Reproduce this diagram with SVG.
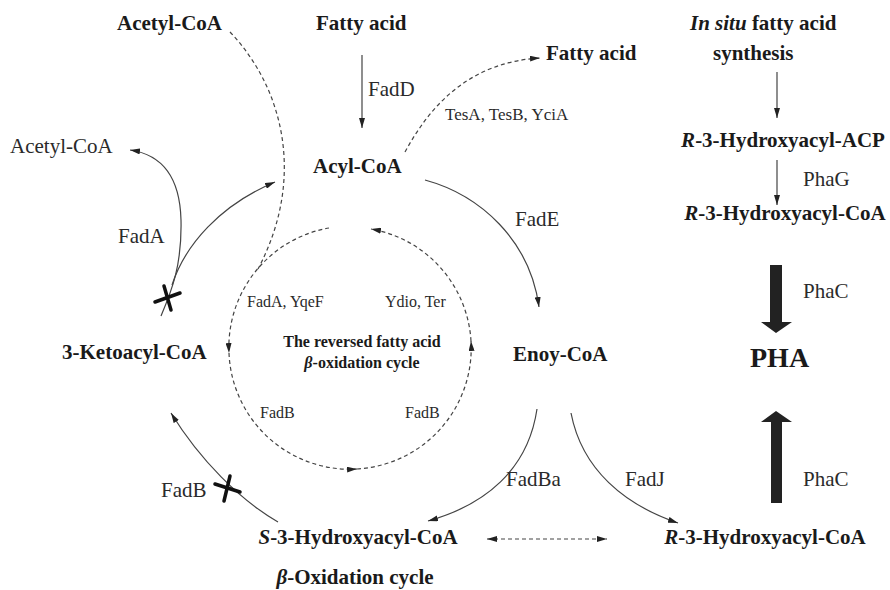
<svg xmlns="http://www.w3.org/2000/svg" width="890" height="590" viewBox="0 0 890 590">
<style>
text{font-family:"Liberation Serif","Times New Roman",serif;fill:#1a1a1a}
.b{font-weight:bold;font-size:21px}
.h{font-weight:bold;font-size:21px}
.r{font-size:21px;fill:#2a2a2a}
.s{font-size:16px;fill:#2a2a2a}
.sb{font-weight:bold;font-size:16px}
.i{font-style:italic}
.ln{fill:none;stroke:#444;stroke-width:1.2}
.ds{fill:none;stroke:#444;stroke-width:1.2;stroke-dasharray:4 3}
.x{stroke:#111;stroke-width:3.5;stroke-linecap:round}
.big{fill:#222}
</style>
<defs>
<marker id="ah" viewBox="0 0 10 6" refX="10" refY="3" markerWidth="10" markerHeight="6" markerUnits="userSpaceOnUse" orient="auto-start-reverse">
<path d="M0,0 L10,3 L0,6 Z" fill="#222"/>
</marker>
</defs>
<rect width="890" height="590" fill="#fff"/>

<g id="connectors">
<!-- Fatty acid -> Acyl-CoA -->
<path class="ln" d="M362,55 L362,128" marker-end="url(#ah)"/>
<!-- Acyl-CoA -> Fatty acid (dashed) -->
<path class="ds" d="M405,152 C432,102 472,62 540,58" marker-end="url(#ah)"/>
<!-- Acetyl-CoA dashed into reversed cycle -->
<path class="ds" d="M230,32 C285,90 305,180 258,269"/>
<!-- FadE -->
<path class="ln" d="M425,180 C480,195 530,240 539,307" marker-end="url(#ah)"/>
<!-- FadA to Acetyl-CoA -->
<path class="ln" d="M161,316 C172,290 182,265 181,220 C180,180 165,155 130,150" marker-end="url(#ah)"/>
<!-- to Acyl-CoA -->
<path class="ln" d="M172,285 C185,245 220,205 275,182" marker-end="url(#ah)"/>
<!-- FadB to 3-Ketoacyl -->
<path class="ln" d="M278,522 C240,500 200,460 171,413" marker-end="url(#ah)"/>
<!-- FadBa -->
<path class="ln" d="M537,409 C528,470 485,505 428,521" marker-end="url(#ah)"/>
<!-- FadJ -->
<path class="ln" d="M571,413 C582,470 625,505 678,523" marker-end="url(#ah)"/>
<!-- S <-> R -->
<path class="ds" d="M487,539 L607,539" marker-start="url(#ah)" marker-end="url(#ah)"/>
<!-- reversed cycle circle -->
<path class="ds" d="M329,228 A121,121 0 0 0 229,353" marker-end="url(#ah)"/>
<path class="ds" d="M229,353 A121,121 0 0 0 357,469" marker-end="url(#ah)"/>
<path class="ds" d="M357,469 A121,121 0 0 0 471,341" marker-end="url(#ah)"/>
<path class="ds" d="M471,341 A121,121 0 0 0 371,229" marker-end="url(#ah)"/>
<!-- right column -->
<path class="ln" d="M777,72 L777,118" marker-end="url(#ah)"/>
<path class="ln" d="M777,160 L777,205" marker-end="url(#ah)"/>
<polygon class="big" points="770,265 782,265 782,322 792,322 776,333 761,322 770,322"/>
<polygon class="big" points="771,503 782,503 782,422 792,422 776,411 761,422 771,422"/>
<!-- blocked marks -->
<line class="x" x1="155" y1="302" x2="180" y2="293"/>
<line class="x" x1="164" y1="286" x2="171" y2="310"/>
<line class="x" x1="215" y1="484" x2="240" y2="492"/>
<line class="x" x1="230" y1="476" x2="224" y2="501"/>
</g>

<g id="acetyl-coa-top"><text class="b" x="117" y="30">Acetyl-CoA</text></g>
<g id="fatty-acid-top"><text class="b" x="316" y="30">Fatty acid</text></g>
<g id="fadd"><text class="r" x="368" y="96">FadD</text></g>
<g id="fatty-acid-right"><text class="b" x="546" y="60">Fatty acid</text></g>
<g id="tes"><text class="s" x="445" y="120" style="font-size:17px">TesA, TesB, YciA</text></g>
<g id="insitu">
<text class="b" x="690" y="30"><tspan class="i">In situ</tspan> fatty acid</text>
<text class="b" x="713" y="60">synthesis</text>
</g>
<g id="r3-acp"><text class="h" x="783" y="147" text-anchor="middle"><tspan class="i">R</tspan>-3-Hydroxyacyl-ACP</text></g>
<g id="phag"><text class="r" x="803" y="186">PhaG</text></g>
<g id="r3-coa-top"><text class="h" x="785" y="220" text-anchor="middle"><tspan class="i">R</tspan>-3-Hydroxyacyl-CoA</text></g>
<g id="acetyl-coa-left"><text class="r" x="10" y="153">Acetyl-CoA</text></g>
<g id="acyl-coa"><text class="b" x="313" y="173">Acyl-CoA</text></g>
<g id="fade"><text class="r" x="515" y="226">FadE</text></g>
<g id="fada"><text class="r" x="118" y="243">FadA</text></g>
<g id="phac1"><text class="r" x="803" y="298">PhaC</text></g>
<g id="fada-yqef"><text class="s" x="247" y="307">FadA, YqeF</text></g>
<g id="ydio-ter"><text class="s" x="385" y="307">Ydio, Ter</text></g>
<g id="ketoacyl"><text class="b" x="62" y="359">3-Ketoacyl-CoA</text></g>
<g id="reversed-cycle">
<text class="sb" x="362" y="347" text-anchor="middle">The reversed fatty acid</text>
<text class="sb" x="362" y="368" text-anchor="middle"><tspan class="i">β</tspan>-oxidation cycle</text>
</g>
<g id="enoy-coa"><text class="b" x="513" y="361">Enoy-CoA</text></g>
<g id="pha"><text class="b" x="750" y="367" style="font-size:28px">PHA</text></g>
<g id="fadb-in1"><text class="s" x="260" y="418">FadB</text></g>
<g id="fadb-in2"><text class="s" x="405" y="418">FadB</text></g>
<g id="fadb-out"><text class="r" x="161" y="497">FadB</text></g>
<g id="fadba"><text class="r" x="506" y="486">FadBa</text></g>
<g id="fadj"><text class="r" x="625" y="486">FadJ</text></g>
<g id="phac2"><text class="r" x="803" y="486">PhaC</text></g>
<g id="s3-coa"><text class="h" x="358" y="544" text-anchor="middle"><tspan class="i">S</tspan>-3-Hydroxyacyl-CoA</text></g>
<g id="r3-coa-bottom"><text class="h" x="765" y="544" text-anchor="middle"><tspan class="i">R</tspan>-3-Hydroxyacyl-CoA</text></g>
<g id="beta-cycle"><text class="b" x="355" y="584" text-anchor="middle"><tspan class="i">β</tspan>-Oxidation cycle</text></g>
</svg>
